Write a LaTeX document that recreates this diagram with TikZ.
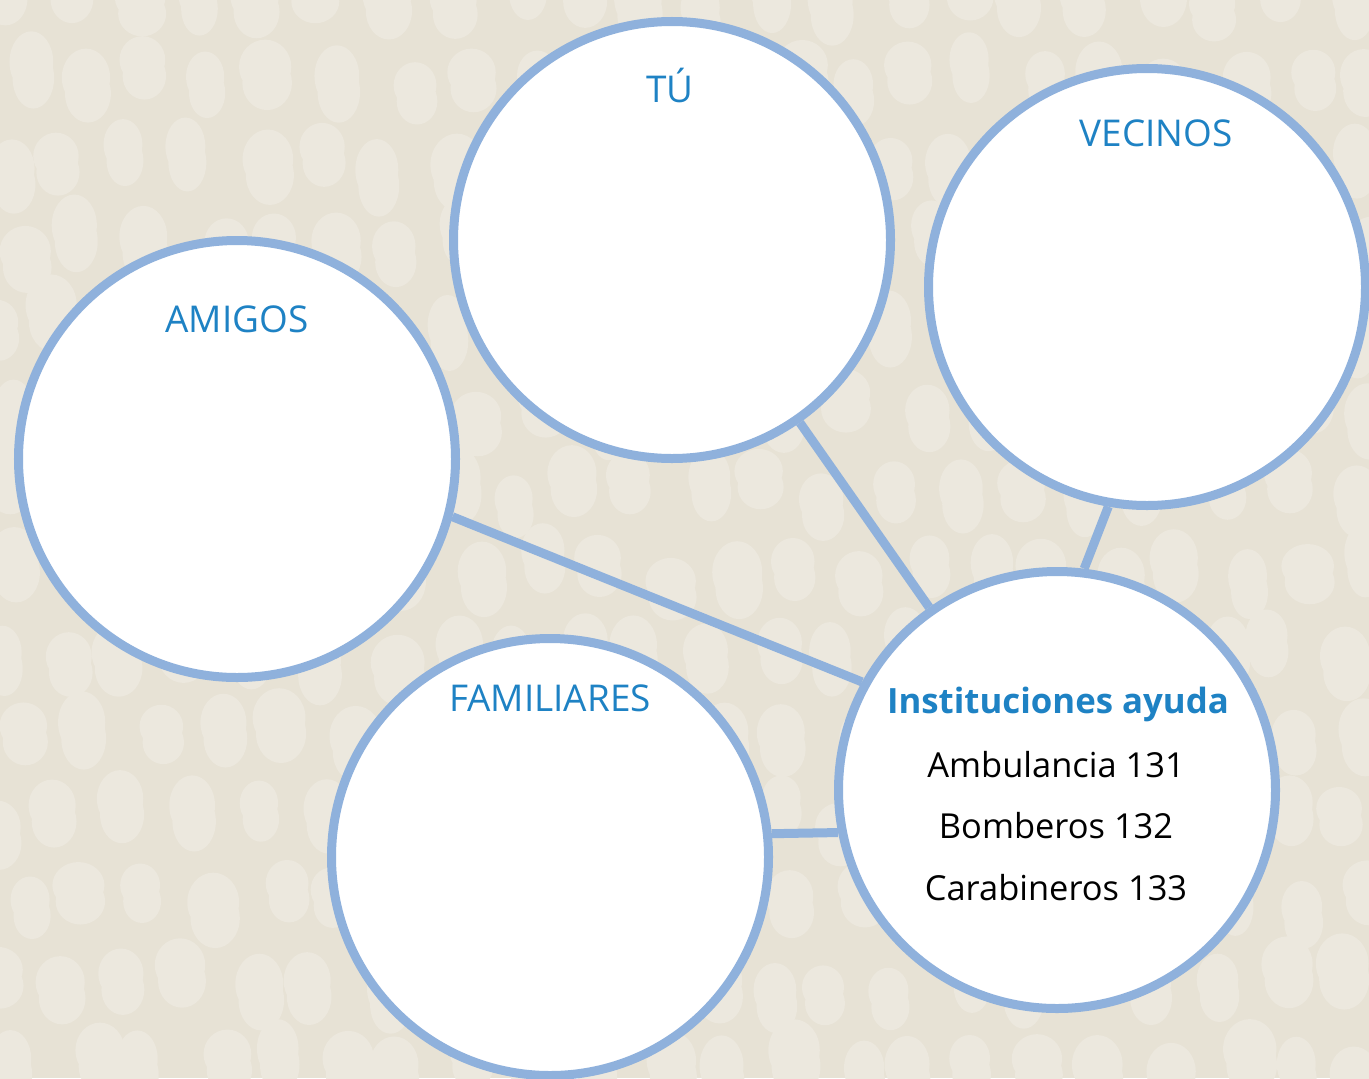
\documentclass[tikz,border=0pt]{standalone}
\usepackage{fontspec}
\setmainfont{Open Sans}
\usetikzlibrary{calc}

\definecolor{ringblue}{HTML}{8FB1DC}
\definecolor{textblue}{HTML}{1E82C4}
\definecolor{paper}{HTML}{E7E2D5}
\definecolor{blobcol}{HTML}{ECE8DE}

\begin{document}
\begin{tikzpicture}[x=0.2mm,y=-0.2mm,
  bubble/.style={circle,draw=ringblue,line width=1.8mm,fill=white,minimum size=87.4mm,inner sep=0pt},
  link/.style={draw=ringblue,line width=1.8mm},
  lbl/.style={text=textblue,font=\fontsize{21}{25}\selectfont,anchor=base,inner sep=0pt},
  phone/.style={font=\fontsize{19.6}{24}\selectfont,anchor=base,inner sep=0pt}]
\useasboundingbox (0,0) rectangle (1369,1078);
\clip (0,0) rectangle (1369,1078);
\fill[paper] (0,0) rectangle (1369,1078);

% paper texture
\pgfmathsetseed{42}
\foreach \i in {0,...,21}
  \foreach \j in {0,...,13}{
    \pgfmathsetmacro\bx{\i*64+mod(\j,2)*22+rand*14}
    \pgfmathsetmacro\by{\j*82+rand*16}
    \pgfmathsetmacro\rx{23+rand*4}
    \pgfmathsetmacro\ry{33+rand*6}
    \fill[blobcol] (\bx,\by-8) ellipse [x radius=\rx, y radius=\ry*0.8]
                   (\bx+2,\by+8) ellipse [x radius=\rx*0.95, y radius=\ry*0.8];
  }

% bubbles
\node[bubble] (tu) at (672,240) {};
\node[bubble] (vecinos) at (1147,287) {};
\node[bubble] (amigos) at (237,459) {};
\node[bubble] (familiares) at (550,857) {};
\node[bubble] (inst) at (1057,790) {};

% links
\draw[link] (tu) -- (inst);
\draw[link] (amigos.-15) -- (inst.151);
\draw[link] (vecinos.-100) -- (inst.83);
\draw[link] (familiares.6) -- (inst.191.6);

% labels
\node[lbl] (tulbl) at (670,102) {TÚ};
\node[lbl] (veclbl) at (1156,146) {VECINOS};
\node[lbl] (amilbl) at (237,332) {AMIGOS};
\node[lbl] (famlbl) at (550,711) {FAMILIARES};
\node[lbl,font=\fontsize{19.8}{24}\selectfont\bfseries] (instlbl) at (1058,713) {Instituciones ayuda};
\node[phone] (amb) at (1056,777) {Ambulancia 131};
\node[phone] (bom) at (1056,838) {Bomberos 132};
\node[phone] (cara) at (1056,900) {Carabineros 133};
\end{tikzpicture}
\end{document}
